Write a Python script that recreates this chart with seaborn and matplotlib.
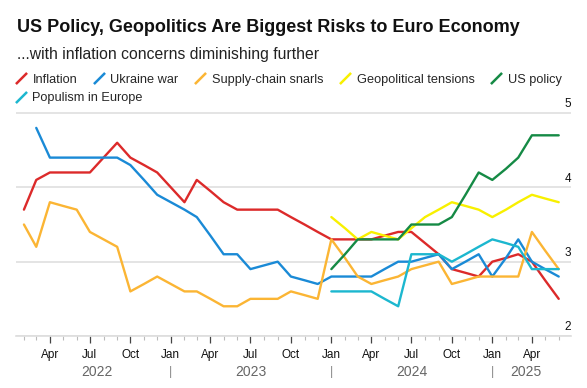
import pandas as pd
import numpy as np
import seaborn as sns
import matplotlib.pyplot as plt
import matplotlib.dates as mdates
from matplotlib.lines import Line2D

# Datos: ranking medio de riesgos (encuesta mensual)
fechas = pd.date_range("2022-02-01", "2025-06-01", freq="MS")

inflacion = [3.7, 4.1, 4.2, 4.2, 4.2, 4.2, 4.4, 4.6, 4.4, 4.3, 4.2,
             4.0, 3.8, 4.1, 3.95, 3.8, 3.7, 3.7, 3.7, 3.7, 3.6, 3.5, 3.4,
             3.3, 3.3, 3.3, 3.3, 3.35, 3.4, 3.4, 3.25, 3.1, 2.9, 2.85, 2.8,
             3.0, 3.05, 3.1, 3.0, 2.75, 2.5]
ucrania = [np.nan, 4.8, 4.4, 4.4, 4.4, 4.4, 4.4, 4.4, 4.3, 4.1, 3.9,
           3.8, 3.7, 3.6, 3.35, 3.1, 3.1, 2.9, 2.95, 3.0, 2.8, 2.75, 2.7,
           2.8, 2.8, 2.8, 2.8, 2.9, 3.0, 3.0, 3.05, 3.1, 2.9, 3.0, 3.1,
           2.8, 3.05, 3.3, 3.0, 2.9, 2.8]
suministro = [3.5, 3.2, 3.8, 3.75, 3.7, 3.4, 3.3, 3.2, 2.6, 2.7, 2.8,
              2.7, 2.6, 2.6, 2.5, 2.4, 2.4, 2.5, 2.5, 2.5, 2.6, 2.55, 2.5,
              3.3, 3.05, 2.8, 2.7, 2.75, 2.8, 2.9, 2.95, 3.0, 2.7, 2.75, 2.8,
              2.8, 2.8, 2.8, 3.4, 3.15, 2.9]
vacio = [np.nan] * 23
geopolitica = vacio + [3.6, 3.45, 3.3, 3.4, 3.35, 3.3, 3.45, 3.6, 3.7, 3.8, 3.75, 3.7,
                       3.6, 3.7, 3.8, 3.9, 3.85, 3.8]
politica_us = vacio + [2.9, 3.1, 3.3, 3.3, 3.3, 3.3, 3.5, 3.5, 3.5, 3.6, 3.9, 4.2,
                       4.1, 4.25, 4.4, 4.7, 4.7, 4.7]
populismo = vacio + [2.6, 2.6, 2.6, 2.6, 2.5, 2.4, 3.1, 3.1, 3.1, 3.0, 3.1, 3.2,
                     3.3, 3.25, 3.2, 2.9, 2.9, 2.9]

nombres = ["Inflation", "Ukraine war", "Supply-chain snarls",
           "Geopolitical tensions", "US policy", "Populism in Europe"]
colores = ["#dc2a2a", "#1a8ad6", "#fbb534", "#f8f000", "#158a45", "#1cb7cf"]
yticks = [2, 3, 4, 5]

df = pd.DataFrame({"fecha": fechas, nombres[0]: inflacion, nombres[1]: ucrania,
                   nombres[2]: suministro, nombres[3]: geopolitica,
                   nombres[4]: politica_us, nombres[5]: populismo})
largo = df.melt(id_vars="fecha", var_name="serie", value_name="valor").dropna()

sns.set_theme(style="white")
plt.rcParams["font.family"] = ["Liberation Sans", "DejaVu Sans"]

fig = plt.figure(figsize=(5.87, 3.88), dpi=100)
ax = fig.add_axes([0.0273, 0.134, 0.9455, 0.5843])

sns.lineplot(data=largo, x="fecha", y="valor", hue="serie", hue_order=nombres,
             palette=colores, linewidth=1.7, legend=False, ax=ax)

ax.set_xlim(pd.Timestamp("2022-01-14"), pd.Timestamp("2025-06-29"))
ax.set_ylim(2, 5.05)
ax.set_xlabel("")
ax.set_ylabel("")

for s in ["top", "left", "right"]:
    ax.spines[s].set_visible(False)
ax.spines["bottom"].set_color("#dddddd")
ax.spines["bottom"].set_linewidth(1.2)

ax.set_yticks(yticks)
ax.grid(axis="y", color="#dddddd", linewidth=1.1)
ax.tick_params(axis="y", length=0, labelleft=False)
for v in yticks:
    ax.annotate(str(v), xy=(1.0, v), xycoords=ax.get_yaxis_transform(),
                xytext=(0, 2), textcoords="offset points",
                ha="right", va="bottom", fontsize=8.5, color="#111111")

ax.xaxis.set_major_locator(mdates.MonthLocator(bymonth=[1, 4, 7, 10]))
ax.xaxis.set_major_formatter(mdates.DateFormatter("%b"))
ax.xaxis.set_minor_locator(mdates.MonthLocator())
ax.tick_params(axis="x", which="major", direction="out", length=5, width=0.9,
               color="#444444", labelsize=8.5, pad=4, labelcolor="#111111", bottom=True)
ax.tick_params(axis="x", which="minor", direction="out", length=3, width=0.8,
               color="#bbbbbb", bottom=True)

# etiquetas de año centradas en el tramo de datos de cada año
for anio in range(2022, 2026):
    ini = max(fechas[0], pd.Timestamp(f"{anio}-01-01"))
    fin = min(fechas[-1], pd.Timestamp(f"{anio + 1}-01-01"))
    centro = ini + (fin - ini) / 2
    ax.text(centro, -0.157, str(anio), transform=ax.get_xaxis_transform(),
            ha="center", va="center", fontsize=10, color="#666666")
    if anio > 2022:
        ax.text(pd.Timestamp(f"{anio}-01-01"), -0.157, "|",
                transform=ax.get_xaxis_transform(), ha="center", va="center",
                fontsize=9, color="#888888")

fig.text(0.029, 0.928, "US Policy, Geopolitics Are Biggest Risks to Euro Economy",
         fontsize=13, fontweight="bold", ha="left", va="center", color="#111111")
fig.text(0.029, 0.860, "...with inflation concerns diminishing further",
         fontsize=11.3, ha="left", va="center", color="#222222")

# leyenda con marcas diagonales
def marca(c):
    return Line2D([], [], color=c, linestyle="none", marker=[(-1, -1), (1, 1)],
                  markersize=8, markeredgewidth=1.8, markeredgecolor=c)

manijas = [marca(c) for c in colores]
kw = dict(frameon=False, handlelength=0.8, handletextpad=0.5, columnspacing=1.3,
          borderpad=0, borderaxespad=0, fontsize=9.2, loc="center left")
fig.legend(manijas[:5], nombres[:5], ncol=5, bbox_to_anchor=(0.027, 0.794), **kw)
fig.legend(manijas[5:], nombres[5:], ncol=1, bbox_to_anchor=(0.027, 0.747), **kw)

fig.savefig("out.png", dpi=100)
